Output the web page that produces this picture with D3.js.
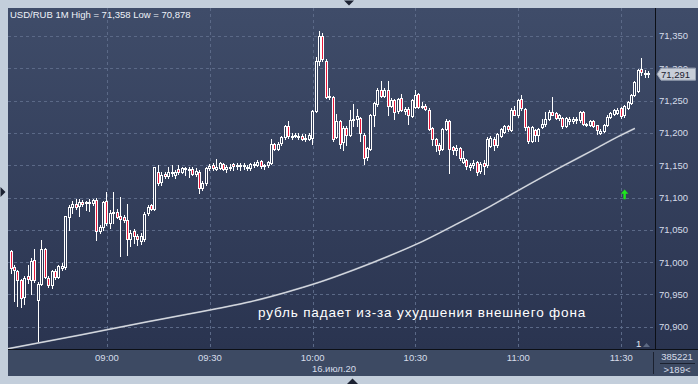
<!DOCTYPE html>
<html>
<head>
<meta charset="utf-8">
<script src="https://cdn.jsdelivr.net/npm/d3@7"></script>
<style>
  html, body { margin: 0; padding: 0; background: #c3cedb; }
  svg { display: block; font-family: Arial, "Liberation Sans", sans-serif; }
</style>
</head>
<body>
<svg id="chart" width="698" height="384"></svg>
<script>
// --- data (1-minute bars, USD/RUB, 16 Jul 2020) ---
const day = "2020-07-16";
const firstBar = "08:32";
const lastBar = "11:38";

const opens = [
  71.017, 70.992, 70.986, 70.972, 70.945, 70.978, 70.973, 71.003, 70.942, 70.967,
  71.020, 70.976, 70.965, 70.986, 70.977, 70.991, 70.992, 71.070, 71.085, 71.090,
  71.087, 71.093, 71.091, 71.093, 71.091, 71.096, 71.048, 71.054, 71.094, 71.060,
  71.076, 71.078, 71.071, 71.070, 71.066, 71.036, 71.048, 71.041, 71.034, 71.036,
  71.075, 71.088, 71.082, 71.140, 71.124, 71.137, 71.134, 71.140, 71.135, 71.144,
  71.140, 71.145, 71.144, 71.144, 71.137, 71.140, 71.115, 71.123, 71.146, 71.150,
  71.145, 71.146, 71.152, 71.144, 71.147, 71.152, 71.149, 71.148, 71.150, 71.147,
  71.146, 71.152, 71.151, 71.156, 71.148, 71.150, 71.154, 71.183, 71.176, 71.183,
  71.193, 71.210, 71.195, 71.196, 71.196, 71.196, 71.191, 71.191, 71.192, 71.234,
  71.311, 71.350, 71.312, 71.257, 71.255, 71.194, 71.218, 71.185, 71.207, 71.197,
  71.221, 71.221, 71.223, 71.197, 71.162, 71.176, 71.228, 71.245, 71.267, 71.257,
  71.267, 71.242, 71.251, 71.233, 71.254, 71.234, 71.237, 71.226, 71.240, 71.260,
  71.240, 71.242, 71.236, 71.207, 71.190, 71.182, 71.175, 71.206, 71.218, 71.178,
  71.174, 71.176, 71.155, 71.158, 71.148, 71.150, 71.155, 71.141, 71.154, 71.150,
  71.180, 71.191, 71.181, 71.195, 71.202, 71.210, 71.205, 71.236, 71.228, 71.252,
  71.237, 71.209, 71.188, 71.204, 71.196, 71.209, 71.214, 71.222, 71.233, 71.231,
  71.223, 71.223, 71.211, 71.218, 71.219, 71.219, 71.219, 71.232, 71.212, 71.212,
  71.218, 71.212, 71.200, 71.203, 71.213, 71.225, 71.229, 71.231, 71.238, 71.227,
  71.239, 71.247, 71.259, 71.265, 71.299, 71.293, 71.292
];

const highs = [
  71.019, 70.996, 70.988, 70.974, 70.978, 70.995, 71.006, 71.021, 70.970, 71.035,
  71.022, 70.978, 70.988, 70.990, 70.996, 70.998, 71.072, 71.088, 71.094, 71.097,
  71.097, 71.096, 71.095, 71.097, 71.098, 71.099, 71.057, 71.095, 71.108, 71.080,
  71.108, 71.082, 71.101, 71.073, 71.090, 71.050, 71.052, 71.043, 71.045, 71.077,
  71.088, 71.090, 71.148, 71.150, 71.140, 71.140, 71.147, 71.150, 71.143, 71.150,
  71.148, 71.148, 71.148, 71.147, 71.145, 71.142, 71.125, 71.148, 71.152, 71.153,
  71.160, 71.155, 71.154, 71.150, 71.152, 71.154, 71.153, 71.153, 71.154, 71.150,
  71.154, 71.155, 71.158, 71.158, 71.152, 71.157, 71.190, 71.185, 71.186, 71.196,
  71.212, 71.219, 71.200, 71.200, 71.200, 71.198, 71.198, 71.200, 71.236, 71.318,
  71.358, 71.354, 71.314, 71.269, 71.257, 71.229, 71.220, 71.210, 71.210, 71.236,
  71.244, 71.237, 71.225, 71.200, 71.178, 71.230, 71.248, 71.270, 71.280, 71.270,
  71.280, 71.254, 71.253, 71.254, 71.260, 71.240, 71.240, 71.253, 71.267, 71.262,
  71.248, 71.244, 71.238, 71.209, 71.192, 71.184, 71.208, 71.222, 71.220, 71.180,
  71.181, 71.178, 71.172, 71.160, 71.154, 71.158, 71.157, 71.155, 71.158, 71.193,
  71.196, 71.193, 71.200, 71.208, 71.213, 71.212, 71.238, 71.241, 71.253, 71.259,
  71.239, 71.210, 71.211, 71.206, 71.208, 71.222, 71.232, 71.235, 71.255, 71.233,
  71.229, 71.225, 71.225, 71.224, 71.224, 71.224, 71.234, 71.234, 71.216, 71.220,
  71.220, 71.213, 71.206, 71.214, 71.227, 71.233, 71.237, 71.238, 71.240, 71.243,
  71.250, 71.261, 71.281, 71.299, 71.316, 71.297, 71.296
];

const lows = [
  70.983, 70.940, 70.932, 70.930, 70.935, 70.968, 70.951, 70.970, 70.878, 70.965,
  70.975, 70.962, 70.960, 70.974, 70.975, 70.988, 70.990, 71.050, 71.076, 71.083,
  71.072, 71.087, 71.080, 71.079, 71.088, 71.034, 71.045, 71.050, 71.058, 71.053,
  71.060, 71.068, 71.010, 71.062, 71.011, 71.025, 71.029, 71.027, 71.028, 71.033,
  71.073, 71.080, 71.080, 71.119, 71.120, 71.130, 71.131, 71.133, 71.130, 71.137,
  71.138, 71.135, 71.132, 71.135, 71.134, 71.107, 71.112, 71.120, 71.143, 71.142,
  71.143, 71.144, 71.142, 71.140, 71.142, 71.143, 71.144, 71.143, 71.144, 71.142,
  71.143, 71.147, 71.149, 71.145, 71.144, 71.148, 71.152, 71.174, 71.174, 71.181,
  71.190, 71.192, 71.190, 71.193, 71.190, 71.189, 71.188, 71.189, 71.183, 71.232,
  71.305, 71.311, 71.254, 71.253, 71.188, 71.192, 71.176, 71.174, 71.181, 71.195,
  71.210, 71.210, 71.187, 71.152, 71.158, 71.174, 71.210, 71.242, 71.255, 71.255,
  71.228, 71.240, 71.222, 71.231, 71.234, 71.230, 71.214, 71.224, 71.238, 71.238,
  71.238, 71.235, 71.205, 71.181, 71.172, 71.168, 71.173, 71.204, 71.138, 71.168,
  71.166, 71.158, 71.153, 71.144, 71.143, 71.145, 71.135, 71.138, 71.136, 71.148,
  71.178, 71.173, 71.179, 71.193, 71.200, 71.203, 71.203, 71.227, 71.225, 71.235,
  71.205, 71.185, 71.186, 71.188, 71.188, 71.207, 71.210, 71.220, 71.227, 71.222,
  71.220, 71.208, 71.209, 71.214, 71.216, 71.215, 71.217, 71.212, 71.210, 71.210,
  71.209, 71.198, 71.198, 71.201, 71.211, 71.223, 71.227, 71.229, 71.223, 71.225,
  71.237, 71.245, 71.257, 71.263, 71.290, 71.287, 71.286
];

const closes = [
  70.990, 70.987, 70.972, 70.944, 70.975, 70.973, 71.002, 70.972, 70.967, 71.021,
  70.977, 70.965, 70.986, 70.977, 70.994, 70.994, 71.071, 71.085, 71.090, 71.086,
  71.093, 71.090, 71.093, 71.091, 71.096, 71.048, 71.054, 71.093, 71.060, 71.076,
  71.078, 71.071, 71.066, 71.066, 71.036, 71.045, 71.041, 71.036, 71.041, 71.075,
  71.085, 71.082, 71.147, 71.123, 71.135, 71.134, 71.140, 71.138, 71.140, 71.140,
  71.146, 71.144, 71.143, 71.137, 71.141, 71.115, 71.123, 71.146, 71.149, 71.145,
  71.148, 71.153, 71.144, 71.147, 71.148, 71.149, 71.150, 71.150, 71.149, 71.146,
  71.152, 71.150, 71.155, 71.148, 71.150, 71.155, 71.183, 71.176, 71.183, 71.193,
  71.210, 71.194, 71.196, 71.197, 71.195, 71.191, 71.192, 71.197, 71.234, 71.311,
  71.350, 71.314, 71.257, 71.256, 71.190, 71.218, 71.183, 71.207, 71.196, 71.220,
  71.222, 71.226, 71.200, 71.162, 71.176, 71.228, 71.246, 71.267, 71.257, 71.267,
  71.242, 71.251, 71.233, 71.252, 71.236, 71.237, 71.228, 71.251, 71.259, 71.240,
  71.242, 71.237, 71.207, 71.190, 71.181, 71.175, 71.206, 71.219, 71.175, 71.174,
  71.177, 71.161, 71.161, 71.148, 71.151, 71.153, 71.140, 71.152, 71.150, 71.191,
  71.192, 71.181, 71.198, 71.206, 71.211, 71.205, 71.236, 71.229, 71.251, 71.238,
  71.209, 71.188, 71.209, 71.196, 71.206, 71.214, 71.222, 71.233, 71.229, 71.224,
  71.227, 71.211, 71.223, 71.221, 71.222, 71.221, 71.232, 71.214, 71.214, 71.218,
  71.211, 71.204, 71.203, 71.212, 71.225, 71.231, 71.235, 71.236, 71.225, 71.241,
  71.248, 71.259, 71.279, 71.297, 71.294, 71.292, 71.291
];

// long moving average (white curve)
const maTimes = ["08:31", "08:52", "09:12", "09:32", "09:42", "09:52", "10:02", "10:12",
  "10:22", "10:32", "10:42", "10:52", "11:00", "11:12", "11:22", "11:29", "11:34"];
const maValues = [70.866, 70.887, 70.908, 70.928, 70.939, 70.953, 70.969, 70.988,
  71.009, 71.032, 71.059, 71.087, 71.111, 71.146, 71.174, 71.194, 71.207];

const priceTicks = [70.90, 70.95, 71.00, 71.05, 71.10, 71.15, 71.20, 71.25, 71.30, 71.35];
const timeTicks = ["09:00", "09:30", "10:00", "10:30", "11:00", "11:30"];
const lastPrice = 71.291;
const signalTime = "11:31";
const signalPrice = 71.105;

const title = "USD/RUB 1M High = 71,358 Low = 70,878";
const note = "рубль падает из-за ухудшения внешнего фона";
const dateLabel = "16.июл.20";
const volumeLabel = "385221";
const barsLabel = ">189<";

// --- layout ---
const plot = { l: 8, t: 8, r: 655, b: 349 };
const parseT = d3.timeParse("%Y-%m-%d %H:%M");
const at = t => parseT(day + " " + t);
const ruFmt = d3.formatLocale({ decimal: ",", thousands: " ", grouping: [3], currency: ["", ""] }).format(".3f");

const x = d3.scaleTime().domain([at(firstBar), at(lastBar)]).range([11, 648.6]);
const y = d3.scaleLinear().domain([70.90, 71.35]).range([326.8, 36]);

const bars = closes.map((c, i) => ({
  t: d3.timeMinute.offset(at(firstBar), i),
  o: opens[i], h: highs[i], l: lows[i], c: c
}));

const svg = d3.select("#chart");
const defs = svg.append("defs");

const grad = defs.append("linearGradient").attr("id", "bg").attr("x1", 0).attr("y1", 0).attr("x2", 0).attr("y2", 1);
grad.append("stop").attr("offset", "0%").attr("stop-color", "#3f4c69");
grad.append("stop").attr("offset", "100%").attr("stop-color", "#2a3450");

defs.append("clipPath").attr("id", "plotClip")
  .append("rect").attr("x", plot.l).attr("y", plot.t)
  .attr("width", plot.r - plot.l).attr("height", plot.b - plot.t);

// frame
svg.append("rect").attr("width", 698).attr("height", 384).attr("fill", "#c3cedb");
svg.append("path").attr("d", "M344,0.5 L354,0.5 L349,5.5 Z").attr("fill", "#1c2232");
svg.append("path").attr("d", "M0.5,187 L5.5,192 L0.5,197 Z").attr("fill", "#1c2232");
svg.append("path").attr("d", "M347,384 L352.5,378.5 L358,384 Z").attr("fill", "#1c2232");

// chart and price-axis panels
svg.append("rect").attr("x", plot.l).attr("y", plot.t)
  .attr("width", 698 - plot.l).attr("height", plot.b - plot.t).attr("fill", "url(#bg)");
// time-axis panel
svg.append("rect").attr("x", plot.l).attr("y", plot.b)
  .attr("width", 698 - plot.l).attr("height", 376 - plot.b).attr("fill", "#3d4a63");

// grid
const grid = svg.append("g").attr("stroke", "#5b6987").attr("stroke-dasharray", "3,3").attr("stroke-width", 1);
grid.selectAll(".hg").data(priceTicks).enter().append("line")
  .attr("x1", plot.l).attr("x2", plot.r)
  .attr("y1", d => Math.round(y(d)) + 0.5).attr("y2", d => Math.round(y(d)) + 0.5);
grid.selectAll(".vg").data(timeTicks).enter().append("line")
  .attr("x1", d => Math.round(x(at(d))) + 0.5).attr("x2", d => Math.round(x(at(d))) + 0.5)
  .attr("y1", plot.t).attr("y2", plot.b);

const plotG = svg.append("g").attr("clip-path", "url(#plotClip)");

// moving average
const maLine = d3.line()
  .x((d, i) => x(at(maTimes[i])))
  .y(d => y(d))
  .curve(d3.curveMonotoneX);
plotG.append("path").attr("d", maLine(maValues))
  .attr("fill", "none").attr("stroke", "#9aa3b5").attr("stroke-width", 1.8);
plotG.append("path").attr("d", maLine(maValues))
  .attr("fill", "none").attr("stroke", "#eeeeee").attr("stroke-width", 0.8);

// candles
const candle = plotG.selectAll(".candle").data(bars).enter().append("g").attr("class", "candle");
candle.append("line")
  .attr("x1", d => Math.floor(x(d.t)) + 0.5).attr("x2", d => Math.floor(x(d.t)) + 0.5)
  .attr("y1", d => Math.round(y(d.h))).attr("y2", d => Math.round(y(d.l)) + 1)
  .attr("stroke", "#ffffff").attr("stroke-width", 1);
candle.append("rect")
  .attr("x", d => Math.floor(x(d.t)) - 0.5)
  .attr("width", 2)
  .attr("y", d => Math.round(y(Math.max(d.o, d.c))) + 0.5)
  .attr("height", d => Math.max(1, Math.round(Math.abs(y(d.o) - y(d.c)))))
  .attr("fill", d => d.c >= d.o ? "#2f3a56" : "#e8183a")
  .attr("stroke", "#ffffff").attr("stroke-width", 1);

// signal arrow
const sx = x(at(signalTime)), sy = y(signalPrice);
plotG.append("path")
  .attr("d", `M${sx},${sy - 4.8} L${sx + 3.8},${sy - 0.6} L${sx + 1.2},${sy - 0.6} L${sx + 1.2},${sy + 5}
              L${sx - 1.2},${sy + 5} L${sx - 1.2},${sy - 0.6} L${sx - 3.8},${sy - 0.6} Z`)
  .attr("fill", "#1ee61e");

// annotation and title
svg.append("text").attr("x", 258).attr("y", 317).attr("fill", "#ffffff")
  .attr("font-size", 13.5).attr("letter-spacing", 0.85).text(note);
svg.append("text").attr("x", 10).attr("y", 18.3).attr("fill", "#eef2f8")
  .attr("font-size", 9.5).text(title);

// bar count marker at bottom right of the plot
svg.append("text").attr("x", 636).attr("y", 347).attr("fill", "#e2e8f2").attr("font-size", 9.5).text("1");
svg.append("path").attr("d", "M643,347 L646.5,343 L650,347 Z").attr("fill", "#5d6a84");

// separators
svg.append("line").attr("x1", plot.r + 0.5).attr("x2", plot.r + 0.5).attr("y1", plot.t).attr("y2", plot.b)
  .attr("stroke", "#0c0f16");
svg.append("line").attr("x1", plot.l).attr("x2", 698).attr("y1", plot.b + 0.5).attr("y2", plot.b + 0.5)
  .attr("stroke", "#0c0f16");
svg.append("line").attr("x1", 653.5).attr("x2", 653.5).attr("y1", 352).attr("y2", 374)
  .attr("stroke", "#1b2130");
svg.append("line").attr("x1", 660).attr("x2", 695).attr("y1", 363.5).attr("y2", 363.5)
  .attr("stroke", "#1b2130");

// price axis (the last-price box covers part of one label, as in the original terminal)
svg.append("g").selectAll("text").data(priceTicks).enter().append("text")
  .attr("x", 659).attr("y", d => y(d) + 3.4)
  .attr("fill", "#d6ddea").attr("font-size", 9.5)
  .text(d => ruFmt(d));

// last price box
const ly = y(lastPrice);
svg.append("path")
  .attr("d", `M657,${ly} L661,${ly - 6} L695.5,${ly - 6} L695.5,${ly + 6} L661,${ly + 6} Z`)
  .attr("fill", "#c8ced8").attr("stroke", "#98a2b3");
svg.append("text").attr("x", 661).attr("y", ly + 3.4).attr("fill", "#1b2030")
  .attr("font-size", 9.5).text(ruFmt(lastPrice));

// time axis
svg.append("g").selectAll("text").data(timeTicks).enter().append("text")
  .attr("x", d => x(at(d))).attr("y", 360.7).attr("text-anchor", "middle")
  .attr("fill", "#d6ddea").attr("font-size", 9.5).text(d => d);
svg.append("text").attr("x", 334).attr("y", 371.7).attr("text-anchor", "middle")
  .attr("fill", "#d6ddea").attr("font-size", 9.5).text(dateLabel);
svg.append("text").attr("x", 677).attr("y", 359.5).attr("text-anchor", "middle")
  .attr("fill", "#d6ddea").attr("font-size", 9.5).text(volumeLabel);
svg.append("text").attr("x", 677).attr("y", 372.5).attr("text-anchor", "middle")
  .attr("fill", "#d6ddea").attr("font-size", 9.5).text(barsLabel);
</script>
</body>
</html>
